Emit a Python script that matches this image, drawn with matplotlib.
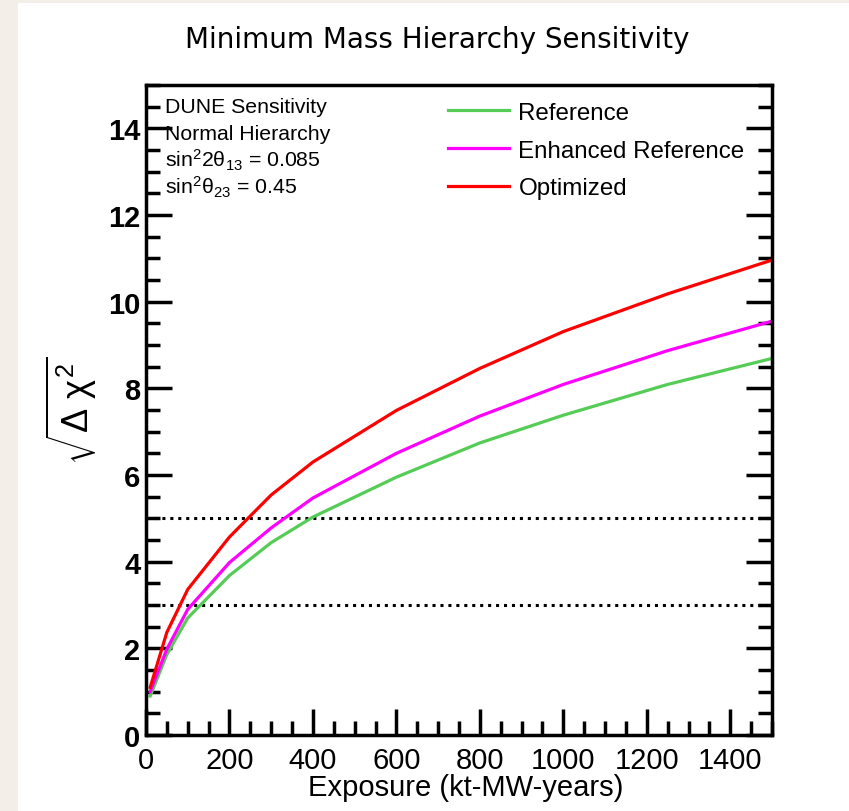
import matplotlib
matplotlib.use("Agg")
import matplotlib.pyplot as plt
from matplotlib.patches import Rectangle
from matplotlib.ticker import MultipleLocator

plt.rcParams["font.family"] = ["Liberation Sans", "DejaVu Sans"]
plt.rcParams["mathtext.fontset"] = "custom"
plt.rcParams["mathtext.rm"] = "Liberation Sans"
plt.rcParams["mathtext.it"] = "Liberation Sans"

# exposure (kt-MW-years) and sqrt(delta chi^2)
exposure = [10, 50, 100, 200, 300, 400, 600, 800, 1000, 1250, 1500]
reference = [0.9, 1.86, 2.7, 3.68, 4.44, 5.03, 5.95, 6.74, 7.38, 8.09, 8.69]
enhanced = [1.0, 1.98, 2.9, 3.98, 4.78, 5.47, 6.5, 7.36, 8.09, 8.87, 9.55]
optimized = [1.1, 2.37, 3.36, 4.57, 5.54, 6.3, 7.49, 8.46, 9.31, 10.18, 10.96]
sigma_lines = [3, 5]

fig = plt.figure(figsize=(8.49, 8.12), dpi=100)
fig.patch.set_facecolor("#f3efe8")
fig.patches.append(Rectangle((18 / 849, 0), 1, 1 - 4 / 812, transform=fig.transFigure,
                             facecolor="white", edgecolor="none", zorder=-5))

ax = fig.add_axes([146 / 849, 1 - 736 / 812, (772 - 146) / 849, (736 - 86) / 812])
ax.set_zorder(2)
ax.set_facecolor("white")

ax.plot(exposure, reference, color="#55cc55", lw=2.3, label="Reference")
ax.plot(exposure, enhanced, color="#ff00ff", lw=2.3, label="Enhanced Reference")
ax.plot(exposure, optimized, color="#ff0000", lw=2.3, label="Optimized")
for y in sigma_lines:
    ax.axhline(y, color="black", lw=2.2, ls=(0, (1, 1.6)), zorder=1)

ax.set_xlim(0, 1500)
ax.set_ylim(0, 15)
ax.xaxis.set_major_locator(MultipleLocator(200))
ax.xaxis.set_minor_locator(MultipleLocator(50))
ax.yaxis.set_major_locator(MultipleLocator(2))
ax.yaxis.set_minor_locator(MultipleLocator(0.5))
ax.tick_params(which="both", direction="in", left=True, right=True, top=False, width=2.5)
ax.tick_params(which="major", length=19)
ax.tick_params(which="minor", length=10)
ax.tick_params(axis="x", labelsize=21, pad=8)
ax.tick_params(axis="y", labelsize=21, pad=4)
for lab in ax.get_yticklabels():
    lab.set_fontweight("bold")
for s in ax.spines.values():
    s.set_linewidth(2.5)

ax.set_xlabel("Exposure (kt-MW-years)", fontsize=21, labelpad=0)
ax.xaxis.set_label_coords(0.51, -0.058)
ax.set_ylabel(r"$\sqrt{\Delta\ \chi^2}$", fontsize=26)
ax.yaxis.set_label_coords(-0.075, 0.5)

fig.text(437 / 849, 1 - 40 / 812, "Minimum Mass Hierarchy Sensitivity",
         ha="center", va="center", fontsize=20, family="DejaVu Sans")

info = ["DUNE Sensitivity", "Normal Hierarchy",
        "sin$^{2}$2θ$_{13}$ = 0.085", "sin$^{2}$θ$_{23}$ = 0.45"]
for i, t in enumerate(info):
    ax.text(0.03, 0.967 - i * 0.041, t, transform=ax.transAxes, fontsize=15.3,
            va="center", ha="left")

ax.legend(loc="upper left", bbox_to_anchor=(0.447, 1.008), frameon=False,
          fontsize=17.4, handlelength=2.56, handletextpad=0.37, labelspacing=0.66)

fig.savefig("out.png", dpi=100, facecolor=fig.get_facecolor())
